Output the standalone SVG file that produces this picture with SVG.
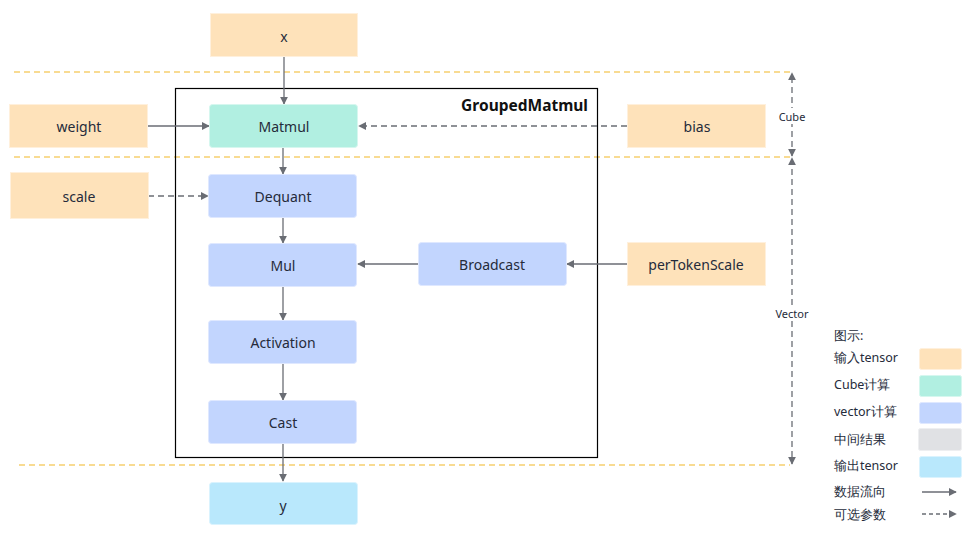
<svg xmlns="http://www.w3.org/2000/svg" width="970" height="537" viewBox="0 0 970 537">
<style>
text{font-family:"Noto Sans","Liberation Sans",sans-serif;fill:#252b3a;}
.n{font-size:14px;text-anchor:middle;dominant-baseline:central;}
.lg{font-size:12.5px;dominant-baseline:central;}
.in{fill:#fee2ba;stroke:#fff0dc;stroke-width:1;}
.cube{fill:#b1efe1;stroke:#d6f7ef;stroke-width:1;}
.vec{fill:#c2d5fe;stroke:#dfe8ff;stroke-width:1;}
.mid{fill:#e0e1e4;stroke:#eeeff1;stroke-width:1;}
.out{fill:#b9e8fc;stroke:#daf3fe;stroke-width:1;}
.e{stroke:#6a6d74;stroke-width:1.3;fill:none;}
.d{stroke-dasharray:6 4;}
.sep{stroke:#f2b827;stroke-width:1.2;stroke-dasharray:6 4;fill:none;}
</style>
<defs>
<marker id="ah" viewBox="0 0 10 10" refX="9" refY="5" markerWidth="8" markerHeight="8" markerUnits="userSpaceOnUse" orient="auto">
<path d="M0,0 L10,5 L0,10 z" fill="#6a6d74"/>
</marker>
</defs>
<rect width="970" height="537" fill="#fff"/>

<g id="separators">
<line class="sep" x1="14" y1="72" x2="790" y2="72"/>
<line class="sep" x1="14" y1="157" x2="790" y2="157"/>
<line class="sep" x1="19" y1="465" x2="790" y2="465"/>
</g>

<g id="container">
<rect x="175.5" y="88.5" width="422" height="369" fill="none" stroke="#000" stroke-width="1.2"/>
<text x="588" y="105" style="font-size:15.5px;font-weight:bold;text-anchor:end;dominant-baseline:central;fill:#111">GroupedMatmul</text>
</g>

<g id="connectors">
<line class="e" x1="284" y1="57" x2="284" y2="104" marker-end="url(#ah)"/>
<line class="e" x1="148" y1="126" x2="209" y2="126" marker-end="url(#ah)"/>
<line class="e d" x1="627" y1="126" x2="359" y2="126" marker-end="url(#ah)"/>
<line class="e" x1="283" y1="148" x2="283" y2="174" marker-end="url(#ah)"/>
<line class="e d" x1="148" y1="196" x2="208" y2="196" marker-end="url(#ah)"/>
<line class="e" x1="283" y1="218" x2="283" y2="243" marker-end="url(#ah)"/>
<line class="e" x1="418" y1="264" x2="358" y2="264" marker-end="url(#ah)"/>
<line class="e" x1="627" y1="264" x2="567" y2="264" marker-end="url(#ah)"/>
<line class="e" x1="283" y1="287" x2="283" y2="320" marker-end="url(#ah)"/>
<line class="e" x1="283" y1="364" x2="283" y2="400" marker-end="url(#ah)"/>
<line class="e" x1="283" y1="444" x2="283" y2="481" marker-end="url(#ah)"/>
<line class="e d" x1="792" y1="113" x2="792" y2="73" marker-end="url(#ah)"/>
<line class="e d" x1="792" y1="121" x2="792" y2="156" marker-end="url(#ah)"/>
<line class="e d" x1="792" y1="305" x2="792" y2="158" marker-end="url(#ah)"/>
<line class="e d" x1="792" y1="321" x2="792" y2="464" marker-end="url(#ah)"/>
</g>

<g id="node-x"><rect class="in" x="210.5" y="13.5" width="147" height="43"/><text class="n" x="284" y="36">x</text></g>
<g id="node-weight"><rect class="in" x="9.5" y="104.5" width="138" height="43"/><text class="n" x="79" y="126">weight</text></g>
<g id="node-matmul"><rect class="cube" x="209.5" y="104.5" width="148" height="43" rx="3"/><text class="n" x="284" y="126">Matmul</text></g>
<g id="node-bias"><rect class="in" x="627.5" y="104.5" width="138" height="43"/><text class="n" x="697" y="126">bias</text></g>
<g id="node-scale"><rect class="in" x="10.5" y="172.5" width="138" height="46"/><text class="n" x="79" y="196">scale</text></g>
<g id="node-dequant"><rect class="vec" x="208.5" y="174.5" width="148" height="43" rx="3"/><text class="n" x="283" y="196">Dequant</text></g>
<g id="node-mul"><rect class="vec" x="208.5" y="243.5" width="148" height="43" rx="3"/><text class="n" x="283" y="265">Mul</text></g>
<g id="node-broadcast"><rect class="vec" x="418.5" y="242.5" width="148" height="43" rx="3"/><text class="n" x="492" y="264">Broadcast</text></g>
<g id="node-pertokenscale"><rect class="in" x="627.5" y="242.5" width="138" height="43"/><text class="n" x="696" y="264">perTokenScale</text></g>
<g id="node-activation"><rect class="vec" x="208.5" y="320.5" width="148" height="43" rx="3"/><text class="n" x="283" y="342">Activation</text></g>
<g id="node-cast"><rect class="vec" x="208.5" y="400.5" width="148" height="43" rx="3"/><text class="n" x="283" y="422">Cast</text></g>
<g id="node-y"><rect class="out" x="209.5" y="482.5" width="148" height="42" rx="3"/><text class="n" x="283" y="505">y</text></g>

<g id="labels">
<rect x="777" y="108" width="30" height="16" fill="#fff"/>
<text x="792" y="116" style="font-size:11px;text-anchor:middle;dominant-baseline:central">Cube</text>
<rect x="774" y="305" width="36" height="16" fill="#fff"/>
<text x="792" y="313" style="font-size:11px;text-anchor:middle;dominant-baseline:central">Vector</text>
</g>

<g id="legend">
<text class="lg" x="834" y="335">图示:</text>
<text class="lg" x="834" y="357">输入tensor</text>
<rect class="in" x="919.5" y="348.5" width="42" height="21" rx="2"/>
<text class="lg" x="834" y="384">Cube计算</text>
<rect class="cube" x="919.5" y="375.5" width="42" height="21" rx="2"/>
<text class="lg" x="834" y="411">vector计算</text>
<rect class="vec" x="919.5" y="402.5" width="42" height="21" rx="2"/>
<text class="lg" x="834" y="439">中间结果</text>
<rect class="mid" x="918.5" y="428.5" width="43" height="22" rx="2"/>
<text class="lg" x="834" y="465">输出tensor</text>
<rect class="out" x="919.5" y="456.5" width="42" height="21" rx="2"/>
<text class="lg" x="834" y="491">数据流向</text>
<line class="e" x1="922" y1="492" x2="956" y2="492" stroke-width="1" marker-end="url(#ah)"/>
<text class="lg" x="834" y="514">可选参数</text>
<line class="e" x1="922" y1="514" x2="956" y2="514" stroke-width="1" stroke-dasharray="4 3" marker-end="url(#ah)"/>
</g>
</svg>
